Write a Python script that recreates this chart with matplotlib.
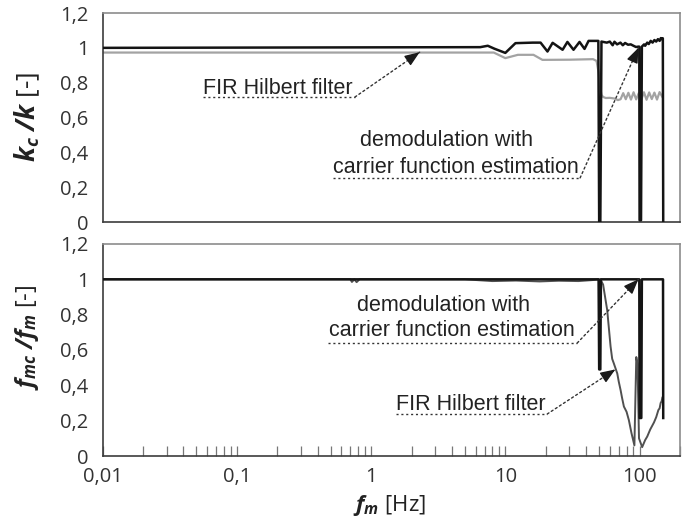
import numpy as np
import matplotlib.pyplot as plt
from matplotlib.ticker import LogLocator, NullFormatter

plt.rcParams['font.family'] = 'Open Sans'
plt.rcParams['mathtext.fontset'] = 'custom'
plt.rcParams['mathtext.rm'] = 'Open Sans'
plt.rcParams['mathtext.it'] = 'Open Sans:italic'
plt.rcParams['mathtext.bf'] = 'Open Sans:bold'
plt.rcParams['mathtext.bfit'] = 'Open Sans:italic:bold'

# k_c/k ratio, demodulation with carrier function estimation
f_k_demod = [0.01, 6.5, 7.4, 8.3, 10.0, 11.9, 16.0, 18.3, 20.6, 22.5, 26.7, 29.0, 32.2, 35.7,
             38.9, 41.7, 47.0, 49.3, 50.0, 51.0, 52.0, 57, 60, 63, 65, 68, 72, 75, 78, 82, 86,
             90, 94, 98, 99.5, 100.0, 102.5, 104, 108, 110, 114, 117, 121, 125, 129, 133, 137,
             141, 144, 147, 149, 150]
k_demod = [1.0, 1.004, 1.012, 0.995, 0.971, 1.027, 1.03, 1.03, 0.979, 1.029, 0.989, 1.034, 0.989,
           1.034, 0.994, 1.04, 1.04, 1.04, 0.0, 0.0, 1.036, 1.03, 1.036, 1.015, 1.035, 1.02, 1.03,
           1.015, 1.028, 1.018, 1.02, 1.012, 1.005, 1.007, 1.007, 0.01, 0.01, 1.007, 1.02, 1.012,
           1.03, 1.022, 1.04, 1.03, 1.045, 1.036, 1.05, 1.04, 1.056, 1.05, 1.055, 0.0]

# k_c/k ratio, FIR Hilbert filter
f_k_fir = [0.01, 8.2, 10.0, 12.4, 16.2, 18.9, 30, 45, 47.8, 49.5, 50.7, 52, 53.5, 56, 60, 65, 69,
           72.2, 75.5, 78.9, 82.5, 86.3, 90.2, 94.3, 98.6, 103.1, 107.8, 112.7, 117.9, 123.3,
           128.9, 134.8, 140.9, 147.4]
k_fir = [0.973, 0.973, 0.941, 0.96, 0.96, 0.931, 0.932, 0.935, 0.925, 0.86, 0.78, 0.73, 0.718,
         0.712, 0.713, 0.709, 0.70, 0.705, 0.74, 0.705, 0.742, 0.703, 0.745, 0.704, 0.74, 0.705,
         0.745, 0.702, 0.744, 0.706, 0.743, 0.703, 0.746, 0.72]

# f_mc/f_m ratio, demodulation with carrier function estimation
f_fm_demod = [0.01, 49.5, 50.0, 51.0, 51.5, 99.5, 100.0, 103.0, 104.0, 149.5, 150.0]
fm_demod = [1.0, 1.0, 0.49, 0.49, 1.0, 1.0, 0.215, 0.215, 1.0, 1.0, 0.215]

# f_mc/f_m ratio, FIR Hilbert filter
f_fm_fir = [0.01, 0.70, 0.72, 0.75, 0.78, 0.82, 5.0, 8.0, 12, 18, 25, 35, 45, 51, 53.5, 57.4,
            60.8, 62.5, 64.3, 68.2, 70.0, 72.2, 74.0, 76.4, 80.0, 83.2, 87.0, 91.5, 94.5, 96.5,
            99.0, 104.5, 110, 114, 120, 128, 133, 138, 141, 143.5, 146, 147.7]
fm_fir = [1.0, 1.0, 0.985, 1.0, 0.984, 1.0, 1.0, 0.99, 0.993, 0.988, 0.992, 0.99, 0.996, 1.0,
          0.97, 0.825, 0.62, 0.55, 0.524, 0.467, 0.42, 0.373, 0.33, 0.28, 0.25, 0.203, 0.13,
          0.06, 0.56, 0.52, 0.10, 0.05, 0.09, 0.11, 0.15, 0.19, 0.22, 0.26, 0.27, 0.30, 0.31, 0.33]

y_ticks = [0, 0.2, 0.4, 0.6, 0.8, 1.0, 1.2]
y_ticklabels = ['0', '0,2', '0,4', '0,6', '0,8', '1', '1,2']
x_ticks = [0.01, 0.1, 1, 10, 100]
x_ticklabels = ['0,01', '0,1', '1', '10', '100']

fig = plt.figure(figsize=(6.9, 5.23), dpi=100)
ax1 = fig.add_axes([0.1487, 0.5755, 0.8368, 0.3996])
ax2 = fig.add_axes([0.1487, 0.1281, 0.8368, 0.4054])

for ax in (ax1, ax2):
    ax.set_xscale('log')
    ax.set_xlim(0.01, 200)
    ax.set_ylim(0, 1.2)
    ax.set_yticks(y_ticks)
    ax.set_yticklabels(y_ticklabels)
    ax.tick_params(axis='y', length=0, pad=10, labelsize=14.5, labelcolor='#333333')
    ax.spines['left'].set_color('#3c3c3c')
    ax.spines['bottom'].set_color('#3c3c3c')
    ax.spines['top'].set_color('#8c8c8c')
    ax.spines['right'].set_color('#8c8c8c')
    for s in ax.spines.values():
        s.set_linewidth(1.2)

ax1.tick_params(axis='x', which='both', length=0, labelbottom=False)

ax2.set_xticks(x_ticks)
ax2.set_xticklabels(x_ticklabels)
ax2.xaxis.set_minor_locator(LogLocator(base=10, subs=np.arange(2, 10)))
ax2.xaxis.set_minor_formatter(NullFormatter())
ax2.tick_params(axis='x', which='both', direction='in', length=7, width=0.9, color='#777777',
                pad=8, labelsize=14.5, labelcolor='#333333')

# curves
ax1.plot(f_k_fir, k_fir, color='#a3a3a3', lw=1.6, zorder=2)
ax1.plot(f_k_demod, k_demod, color='#141414', lw=1.8, zorder=3)
ax2.plot(f_fm_fir, fm_fir, color='#505050', lw=1.4, zorder=2)
ax2.plot(f_fm_demod, fm_demod, color='#141414', lw=1.8, zorder=3)

# annotations: dotted underline, dotted leader, solid arrow head
txt = dict(family='Liberation Sans', fontsize=15.5, color='#222222')
dot = dict(color='#333333', lw=1.0, ls=(0, (1.5, 2)))


def pointer(ax, x0, x1, y, target):
    ax.plot([x0, x1], [y, y], transform=ax.transAxes, clip_on=False, **dot)
    ax.annotate('', xy=target, xycoords='data', xytext=(x1, y), textcoords='axes fraction',
                arrowprops=dict(arrowstyle='-', shrinkA=0, shrinkB=0, **dot))
    p1 = ax.transAxes.transform((x1, y))
    p2 = ax.transData.transform(target)
    u = (p2 - p1) / np.hypot(*(p2 - p1))
    ax.annotate('', xy=target, xycoords='data', xytext=tuple(-u * 10), textcoords='offset pixels',
                arrowprops=dict(arrowstyle='-|>,head_length=0.9,head_width=0.35',
                                color='#1a1a1a', lw=1.0, shrinkA=0, shrinkB=0))


ax1.text(0.174, 0.641, 'FIR Hilbert filter', transform=ax1.transAxes, ha='left', va='center', **txt)
pointer(ax1, 0.174, 0.437, 0.598, (2.3, 0.975))

ax1.text(0.595, 0.392, 'demodulation with', transform=ax1.transAxes, ha='center', va='center', **txt)
ax1.text(0.612, 0.263, 'carrier function estimation', transform=ax1.transAxes, ha='center', va='center', **txt)
pointer(ax1, 0.399, 0.827, 0.211, (98, 1.0))

ax2.text(0.590, 0.712, 'demodulation with', transform=ax2.transAxes, ha='center', va='center', **txt)
ax2.text(0.605, 0.594, 'carrier function estimation', transform=ax2.transAxes, ha='center', va='center', **txt)
pointer(ax2, 0.390, 0.822, 0.533, (98, 1.0))

ax2.text(0.508, 0.241, 'FIR Hilbert filter', transform=ax2.transAxes, ha='left', va='center', **txt)
pointer(ax2, 0.508, 0.770, 0.198, (66, 0.49))

# axis titles
fig.text(0.039, 0.776, r'$\mathbfit{k_c}$ $\mathbfit{/k}$ [-]', rotation=90, ha='center', va='center',
         fontsize=19, color='#222222')
fig.text(0.039, 0.354, r'$\mathbfit{f_{mc}}$ $\mathbfit{/f_m}$ [-]', rotation=90, ha='center', va='center',
         fontsize=17, color='#222222')
fig.text(0.565, 0.034, r'$\mathbfit{f_m}$ [Hz]', ha='center', va='center',
         fontsize=16, color='#222222')

fig.savefig('out.png', dpi=100)
